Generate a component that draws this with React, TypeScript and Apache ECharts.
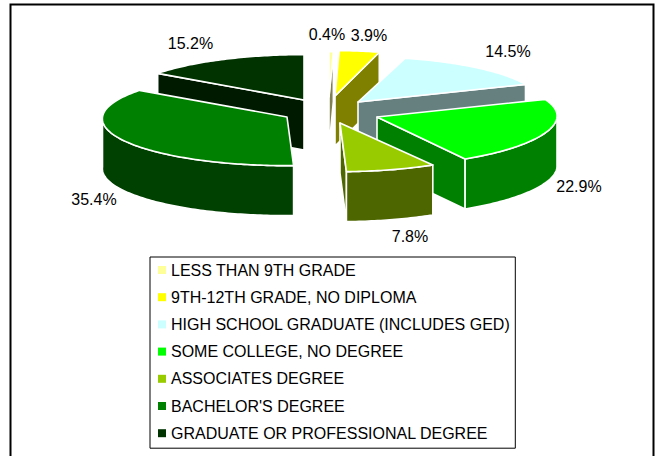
import React, { useEffect, useRef } from "react";
import * as echarts from "echarts";

const categories = [
  "LESS THAN 9TH GRADE",
  "9TH-12TH GRADE, NO DIPLOMA",
  "HIGH SCHOOL GRADUATE (INCLUDES GED)",
  "SOME COLLEGE, NO DEGREE",
  "ASSOCIATES DEGREE",
  "BACHELOR'S DEGREE",
  "GRADUATE OR PROFESSIONAL DEGREE",
];
const shares = [0.4, 3.9, 14.5, 22.9, 7.8, 35.4, 15.2];

const topColors = ["#ffff99", "#ffff00", "#ccffff", "#00ff00", "#99cc00", "#008000", "#003300"];
const sideColors = ["#808050", "#808000", "#668080", "#008000", "#4d6600", "#004000", "#001a00"];
// exploded apex of every slice, its width factor and skew, and where its percentage sits
const apexes = [[329, 97], [335, 96], [358, 102], [377, 117], [340, 123], [287, 117], [304, 100]];
const widthFactors = [1, 0.955, 1.02, 1, 1, 1.025, 1.017];
const widthSkews = [0.035, 0.035, 0.035, -0.025, 0.035, 0.035, 0.035];
const labelCenters = [[327, 34.5], [369, 35], [508, 51], [579, 186], [410, 236], [94, 199], [190.5, 43]];
const paintOrder = [6, 5, 0, 1, 2, 3, 4];

const RX = 180;
const RY = 47;
const DEPTH = 50;
const PERSPECTIVE = 0.035;
const total = shares.reduce((a, b) => a + b, 0);

function rimPoint(index: number, deg: number): number[] {
  const apex = apexes[index];
  const t = (deg * Math.PI) / 180;
  const c = Math.cos(t);
  return [
    apex[0] + RX * widthFactors[index] * Math.sin(t) * (1 - widthSkews[index] * c),
    apex[1] - RY * c * (1 - PERSPECTIVE * c),
  ];
}

function arc(index: number, from: number, to: number): number[][] {
  const pts: number[][] = [];
  const n = Math.max(2, Math.ceil(Math.abs(to - from)));
  for (let i = 0; i <= n; i++) pts.push(rimPoint(index, from + ((to - from) * i) / n));
  return pts;
}

const drop = (p: number[]) => [p[0], p[1] + DEPTH];

function renderSlice(index: number) {
  return (_params: any, api: any) => {
    const value = api.value(0);
    const before = shares.slice(0, index).reduce((a, b) => a + b, 0);
    const start = (before / total) * 360;
    const end = ((before + value) / total) * 360;
    const apex = apexes[index];
    const side = { fill: sideColors[index], stroke: "#fff", lineWidth: 1.6, lineJoin: "round" };
    const children: any[] = [];
    const radialFace = (deg: number) => {
      const rim = rimPoint(index, deg);
      children.push({
        type: "polygon",
        shape: { points: [apex, rim, drop(rim), drop(apex)] },
        style: side,
      });
    };
    if (start > 180 && start < 360) radialFace(start);
    if (end > 0 && end < 180) radialFace(end);
    const a = Math.max(start, 90);
    const b = Math.min(end, 270);
    if (b > a) {
      const rim = arc(index, a, b);
      children.push({
        type: "polygon",
        shape: { points: [...rim, ...rim.map(drop).reverse()] },
        style: side,
      });
    }
    children.push({
      type: "polygon",
      shape: { points: [apex, ...arc(index, start, end)] },
      style: { fill: topColors[index], stroke: "#fff", lineWidth: 1.6, lineJoin: "round" },
    });
    children.push({
      type: "text",
      style: {
        text: `${value.toFixed(1)}%`,
        x: labelCenters[index][0],
        y: labelCenters[index][1],
        align: "center",
        verticalAlign: "middle",
        fill: "#000",
        font: '16px "Liberation Sans"',
      },
    });
    return { type: "group", children };
  };
}

export default function App() {
  const ref = useRef<HTMLDivElement>(null);
  useEffect(() => {
    document.body.style.margin = "0";
    const chart = echarts.init(ref.current!, null, { renderer: "svg" });
    chart.setOption({
      animation: false,
      backgroundColor: "#fff",
      graphic: [
        {
          type: "rect",
          shape: { x: 10.5, y: 4.5, width: 643, height: 520 },
          style: { fill: "transparent", stroke: "#000", lineWidth: 2 },
          silent: true,
        },
      ],
      legend: {
        orient: "vertical",
        left: 150,
        top: 257,
        data: categories.map((name, i) => ({ name, icon: "rect", itemStyle: { color: topColors[i] } })),
        itemWidth: 8,
        itemHeight: 8,
        itemGap: 11.2,
        padding: [5, 5, 7, 8],
        borderColor: "#000",
        borderWidth: 1,
        backgroundColor: "#fff",
        selectedMode: false,
        textStyle: { color: "#000", fontFamily: "Liberation Sans", fontSize: 16 },
      },
      series: paintOrder.map((i) => ({
        type: "custom",
        name: categories[i],
        coordinateSystem: "none",
        silent: true,
        itemStyle: { color: topColors[i] },
        data: [[shares[i]]],
        renderItem: renderSlice(i),
      })),
    });
    return () => chart.dispose();
  }, []);
  return <div ref={ref} style={{ width: 655, height: 456, position: "absolute", left: 0, top: 0 }} />;
}
